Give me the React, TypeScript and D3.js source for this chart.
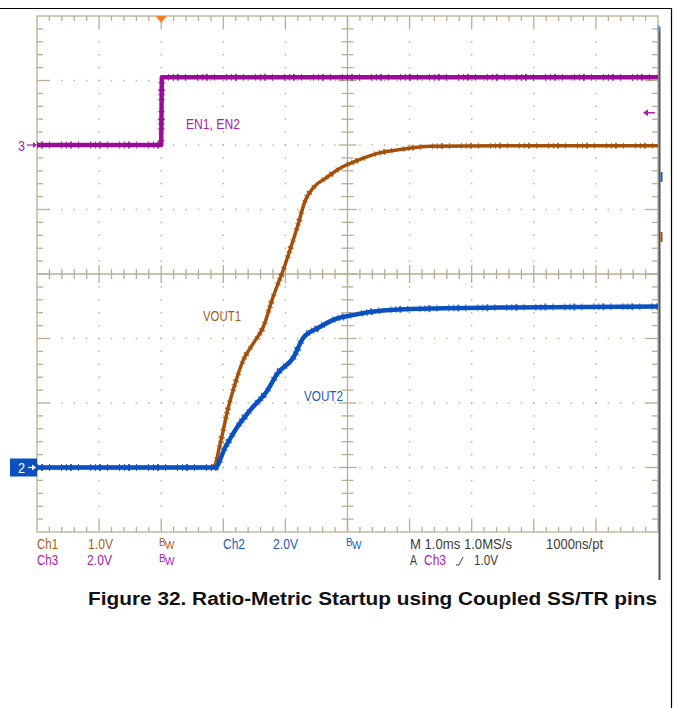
import * as d3 from "d3";

// time axis in ms, trigger at 0, 1.0 ms/div
const ch3Time = [-2, 0, 0.01, 8];
const ch3Volts = [0, 0, 2.1, 2.1];

const ch1Time = [-2, 0.84, 0.95, 1.08, 1.19, 1.32, 1.48, 1.64, 1.8, 1.96, 2.19, 2.32, 2.45, 2.67, 2.88, 3.16, 3.48, 3.85, 4.33, 5.46, 8];
const ch1Volts = [0, 0, 0.37, 0.93, 1.3, 1.66, 1.92, 2.17, 2.64, 3.05, 3.72, 4.14, 4.34, 4.5, 4.64, 4.76, 4.87, 4.93, 4.98, 4.99, 4.99];

const ch2Time = [-2, 0.87, 1.03, 1.22, 1.43, 1.71, 1.87, 2.13, 2.29, 2.51, 2.83, 3.04, 3.57, 4.33, 5.46, 8];
const ch2Volts = [0, 0, 0.62, 1.24, 1.77, 2.39, 2.91, 3.41, 4.03, 4.31, 4.62, 4.71, 4.87, 4.93, 4.96, 4.99];

const triggerLevel = 1.0; // Ch3

// readout text: label, left x, width on screen
const infoRow1 = [
    { t: "Ch1", x: 37, w: 21, c: "#a95a14" },
    { t: "1.0V", x: 88, w: 25, c: "#a95a14" },
    { t: "Ch2", x: 223, w: 22, c: "#1a5cc0" },
    { t: "2.0V", x: 273, w: 25, c: "#1a5cc0" },
    { t: "M 1.0ms 1.0MS/s", x: 410, w: 102, c: "#3c3c3c" },
    { t: "1000ns/pt", x: 546, w: 57, c: "#3c3c3c" },
];
const infoRow2 = [
    { t: "Ch3", x: 37, w: 21, c: "#a823a8" },
    { t: "2.0V", x: 87, w: 25, c: "#a823a8" },
    { t: "A", x: 410, w: 7, c: "#3c3c3c" },
    { t: "Ch3", x: 424, w: 22, c: "#a823a8" },
    { t: "1.0V", x: 474, w: 24, c: "#3c3c3c" },
];
const bwMarks = [
    { x: 159, row: 0, c: "#a95a14" },
    { x: 346, row: 0, c: "#1a5cc0" },
    { x: 159, row: 1, c: "#a823a8" },
];
const traceLabels = [
    { t: "EN1, EN2", x: 186, y: 129, w: 54, c: "#a823a8" },
    { t: "VOUT1", x: 203, y: 321, w: 38, c: "#a95a14" },
    { t: "VOUT2", x: 304, y: 401, w: 39, c: "#1a5cc0" },
];

const caption = "Figure 32. Ratio-Metric Startup using Coupled SS/TR pins";

const W = 673;
const H = 708;
const margin = { left: 37, right: 658, top: 16, bottom: 532 };
const grid = "#b7af92";
const scopeFont = "'Liberation Sans', Arial, sans-serif";

export default function App() {
    const x = d3.scaleLinear().domain([-2, 8]).range([margin.left, margin.right]);
    const y = d3.scaleLinear().domain([-4, 4]).range([margin.bottom, margin.top]); // divisions

    const channels = [
        { time: ch3Time, volts: ch3Volts, vdiv: 2, off: 2, color: "#990c99", w: 4.5, curve: d3.curveLinear },
        { time: ch1Time, volts: ch1Volts, vdiv: 1, off: -3, color: "#a3500a", w: 3.5, curve: d3.curveMonotoneX },
        { time: ch2Time, volts: ch2Volts, vdiv: 2, off: -3, color: "#0a50c0", w: 4.5, curve: d3.curveMonotoneX },
    ];

    const xMinor = d3.range(0, 51).map(i => ({ v: -2 + i * 0.2, major: i % 5 === 0, i }));
    const yMinor = d3.range(0, 41).map(i => ({ v: -4 + i * 0.2, major: i % 5 === 0, i }));
    const xMajorInner = d3.range(-1, 8).filter(v => v !== 3);
    const yMajorInner = d3.range(-3, 4).filter(v => v !== 0);

    const tickLines: JSX.Element[] = [];
    xMinor.filter(d => d.i > 0 && d.i < 50).forEach(d => {
        const px = x(d.v);
        const len = d.major ? 12 : 5;
        tickLines.push(<line key={"tt" + d.i} x1={px} x2={px} y1={margin.top} y2={margin.top + len} />);
        tickLines.push(<line key={"tb" + d.i} x1={px} x2={px} y1={margin.bottom} y2={margin.bottom - len} />);
        const cl = d.major ? 9 : 5;
        tickLines.push(<line key={"tc" + d.i} x1={px} x2={px} y1={y(0) - cl} y2={y(0) + cl} />);
    });
    yMinor.filter(d => d.i > 0 && d.i < 40).forEach(d => {
        const py = y(d.v);
        const len = d.major ? 12 : 6;
        tickLines.push(<line key={"tl" + d.i} x1={margin.left} x2={margin.left + len} y1={py} y2={py} />);
        tickLines.push(<line key={"tr" + d.i} x1={margin.right} x2={margin.right - len} y1={py} y2={py} />);
        const cl = d.major ? 9 : 6;
        tickLines.push(<line key={"tv" + d.i} x1={x(3) - cl} x2={x(3) + cl} y1={py} y2={py} />);
    });

    const dots: JSX.Element[] = [];
    xMajorInner.forEach(v => {
        yMinor.filter(d => d.i > 0 && d.i < 40).forEach(d => {
            dots.push(<rect key={`dv${v}-${d.i}`} x={x(v) - 0.7} y={y(d.v) - 0.7} width={1.4} height={1.4} />);
        });
    });
    yMajorInner.forEach(v => {
        xMinor.filter(d => d.i > 0 && d.i < 50).forEach(d => {
            dots.push(<rect key={`dh${v}-${d.i}`} x={x(d.v) - 0.7} y={y(v) - 0.7} width={1.4} height={1.4} />);
        });
    });

    const lineFor = (ch: typeof channels[number]) =>
        d3.line<number>()
            .curve(ch.curve)
            .x((_, i) => x(ch.time[i]))
            .y((v) => y(v / ch.vdiv + ch.off))(ch.volts) ?? "";

    const groundY = y(-3);
    const ch3Y = y(2);
    const trigY = y(triggerLevel / 2 + 2);

    return (
        <svg width={W} height={H} style={{ position: "absolute", left: 0, top: 0, background: "#fff" }}>
            {/* page frame */}
            <line x1={0} x2={671.5} y1={8.5} y2={8.5} stroke="#000" strokeWidth={1.2} />
            <line x1={671.5} x2={671.5} y1={8} y2={H} stroke="#000" strokeWidth={1.2} />

            {/* graticule */}
            <g fill={grid}>{dots}</g>
            <g stroke={grid} strokeWidth={1.3}>
                <rect x={margin.left} y={margin.top} width={margin.right - margin.left} height={margin.bottom - margin.top} fill="none" />
                <line x1={margin.left} x2={margin.right} y1={y(0)} y2={y(0)} />
                <line x1={x(3)} x2={x(3)} y1={margin.top} y2={margin.bottom} />
                {tickLines}
            </g>
            <line x1={659.5} x2={659.5} y1={27} y2={580} stroke="#555" strokeWidth={2} />
            <rect x={657.5} y={25} width={2} height={7} fill="#7a9cc8" />
            <rect x={660.5} y={172} width={2} height={10} fill="#1a5cc0" />
            <rect x={660.5} y={232} width={2} height={10} fill="#a3500a" />

            {/* traces */}
            {channels.map((ch, i) => (
                <g key={i} fill="none" stroke={ch.color} strokeLinejoin="round">
                    <path d={lineFor(ch)} strokeWidth={ch.w} />
                    <path d={lineFor(ch)} strokeWidth={ch.w + 2.5} strokeDasharray="1 3 2 6 1 11 1 4" opacity={0.8} />
                </g>
            ))}

            {/* trigger position marker */}
            <path d={`M${x(0) - 5.5},${margin.top} L${x(0) + 5.5},${margin.top} L${x(0)},${margin.top + 7} Z`} fill="#ff7b22" />
            {/* trigger level arrow */}
            <g stroke="#a823a8" fill="#a823a8" strokeWidth={1.5}>
                <line x1={645} x2={655} y1={trigY} y2={trigY} />
                <path d={`M643,${trigY} L648,${trigY - 3.5} L648,${trigY + 3.5} Z`} stroke="none" />
            </g>

            {/* channel ground markers */}
            <text x={18} y={ch3Y + 5.5} fill="#a823a8" fontFamily={scopeFont} fontSize={15} textLength={7} lengthAdjust="spacingAndGlyphs">3</text>
            <g stroke="#a823a8" fill="#a823a8" strokeWidth={1.2}>
                <line x1={27} x2={36} y1={ch3Y} y2={ch3Y} />
                <path d={`M37,${ch3Y} L33,${ch3Y - 3} L33,${ch3Y + 3} Z`} stroke="none" />
            </g>
            <rect x={10} y={groundY - 9} width={27} height={18} fill="#0a50c0" />
            <text x={18} y={groundY + 5.5} fill="#fff" fontFamily={scopeFont} fontSize={15} textLength={7} lengthAdjust="spacingAndGlyphs">2</text>
            <g stroke="#fff" fill="#fff" strokeWidth={1.2}>
                <line x1={28} x2={35} y1={groundY} y2={groundY} />
                <path d={`M36,${groundY} L32,${groundY - 3} L32,${groundY + 3} Z`} stroke="none" />
            </g>

            {/* trace labels */}
            <g fontFamily={scopeFont} fontSize={15}>
                {traceLabels.map((d, i) => (
                    <text key={"tl" + i} x={d.x} y={d.y} fill={d.c} textLength={d.w} lengthAdjust="spacingAndGlyphs">{d.t}</text>
                ))}
            </g>

            {/* readout */}
            <g fontFamily={scopeFont} fontSize={15}>
                {infoRow1.map((d, i) => <text key={"r1" + i} x={d.x} y={549} fill={d.c} textLength={d.w} lengthAdjust="spacingAndGlyphs">{d.t}</text>)}
                {infoRow2.map((d, i) => <text key={"r2" + i} x={d.x} y={565} fill={d.c} textLength={d.w} lengthAdjust="spacingAndGlyphs">{d.t}</text>)}
                {bwMarks.map((d, i) => (
                    <g key={"bw" + i} fill={d.c} fontSize={10}>
                        <text x={d.x} y={546 + d.row * 16}>B</text>
                        <text x={d.x + 6} y={549 + d.row * 16}>W</text>
                    </g>
                ))}
            </g>
            <path d="M456,565 L459,565 L463,557" fill="none" stroke="#3c3c3c" strokeWidth={1} />

            {/* caption */}
            <text x={88} y={605} fontFamily="'Liberation Sans', Arial, sans-serif" fontWeight="bold" fontSize={18}
                textLength={569} lengthAdjust="spacingAndGlyphs" fill="#111">{caption}</text>
        </svg>
    );
}
